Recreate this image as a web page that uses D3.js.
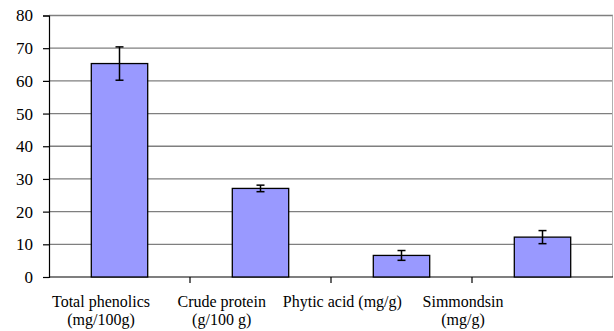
<!DOCTYPE html>
<html>
<head>
<meta charset="utf-8">
<script src="https://cdn.jsdelivr.net/npm/d3@7"></script>
<style>
  body { margin: 0; background: #fff; }
  text { font-family: "Liberation Serif", "Times New Roman", serif; fill: #000; }
</style>
</head>
<body>
<script>
// chart data
var categories = ["Total phenolics", "Crude protein", "Phytic acid", "Simmondsin"]
var labelLines = [
  ["Total phenolics", "(mg/100g)"],
  ["Crude protein", "(g/100 g)"],
  ["Phytic acid (mg/g)"],
  ["Simmondsin", "(mg/g)"]
]
var values = [65.3, 27.1, 6.6, 12.2]
var errors = [5.1, 1.0, 1.5, 2.0]
var yTicks = [0, 10, 20, 30, 40, 50, 60, 70, 80]

var width = 614, height = 331
var margins = {left: 49, right: 1, top: 15.5, bottom: 54}

var svg = d3.select("body").append("svg")
  .attr("width", width)
  .attr("height", height)

var scaleX = d3.scaleBand().domain(categories)
  .range([margins.left, width - margins.right])
var scaleY = d3.scaleLinear().domain([0, 80])
  .range([height - margins.bottom, margins.top])
// the category labels sit left of the band centres in the original
var labelX = d3.scalePoint().domain(categories).range([101, 463])

// gridlines
svg.append("g").selectAll("line")
  .data(yTicks.slice(1))
  .enter().append("line")
  .attr("x1", margins.left).attr("x2", width - margins.right)
  .attr("y1", function(d){ return scaleY(d) })
  .attr("y2", function(d){ return scaleY(d) })
  .attr("stroke", "#7f7f7f").attr("stroke-width", 1.3)

// right border
svg.append("line")
  .attr("x1", width - margins.right - 0.5).attr("x2", width - margins.right - 0.5)
  .attr("y1", scaleY(80)).attr("y2", scaleY(0))
  .attr("stroke", "#b0b0b0").attr("stroke-width", 1)

// y axis
var axisY = svg.append("g")
  .attr("transform", "translate(" + margins.left + ",0)")
  .call(d3.axisLeft(scaleY).tickValues(yTicks).tickSize(6).tickPadding(10))
axisY.select(".domain").attr("stroke", "#000").attr("stroke-width", 1.2)
axisY.selectAll(".tick line").attr("stroke", "#000").attr("stroke-width", 1.2)
axisY.selectAll("text").style("font-size", "17px")

// x axis
var axisX = svg.append("g")
  .attr("transform", "translate(0," + scaleY(0) + ")")
axisX.append("line")
  .attr("x1", margins.left).attr("x2", width - margins.right)
  .attr("stroke", "#000").attr("stroke-width", 1.2)
axisX.selectAll(".sep")
  .data(categories.slice(1))
  .enter().append("line").attr("class", "sep")
  .attr("x1", function(d){ return scaleX(d) })
  .attr("x2", function(d){ return scaleX(d) })
  .attr("y1", 0).attr("y2", 6)
  .attr("stroke", "#000").attr("stroke-width", 1.2)

var labels = svg.append("g").selectAll("text")
  .data(categories)
  .enter().append("text")
  .attr("text-anchor", "middle")
  .style("font-size", "16px")
labels.selectAll("tspan")
  .data(function(d, i){ return labelLines[i].map(function(t){ return {cat: d, t: t} }) })
  .enter().append("tspan")
  .attr("x", function(d){ return labelX(d.cat) })
  .attr("y", function(d, j){ return scaleY(0) + 30 + j * 18 })
  .text(function(d){ return d.t })

// bars
var barW = scaleX.bandwidth() * 0.4
svg.append("g").selectAll("rect")
  .data(values)
  .enter().append("rect")
  .attr("x", function(d, i){ return scaleX(categories[i]) + (scaleX.bandwidth() - barW) / 2 })
  .attr("width", barW)
  .attr("y", function(d){ return scaleY(d) })
  .attr("height", function(d){ return scaleY(0) - scaleY(d) })
  .attr("fill", "#9999ff")
  .attr("stroke", "#000").attr("stroke-width", 1.3)

// error bars
var err = svg.append("g").selectAll("g")
  .data(values)
  .enter().append("g")
  .attr("stroke", "#000").attr("stroke-width", 1.5)
err.append("line")
  .attr("x1", function(d, i){ return scaleX(categories[i]) + scaleX.bandwidth() / 2 })
  .attr("x2", function(d, i){ return scaleX(categories[i]) + scaleX.bandwidth() / 2 })
  .attr("y1", function(d, i){ return scaleY(d + errors[i]) })
  .attr("y2", function(d, i){ return scaleY(d - errors[i]) })
;[1, -1].forEach(function(s){
  err.append("line")
    .attr("x1", function(d, i){ return scaleX(categories[i]) + scaleX.bandwidth() / 2 - 4 })
    .attr("x2", function(d, i){ return scaleX(categories[i]) + scaleX.bandwidth() / 2 + 4 })
    .attr("y1", function(d, i){ return scaleY(d + s * errors[i]) })
    .attr("y2", function(d, i){ return scaleY(d + s * errors[i]) })
})
</script>
</body>
</html>
